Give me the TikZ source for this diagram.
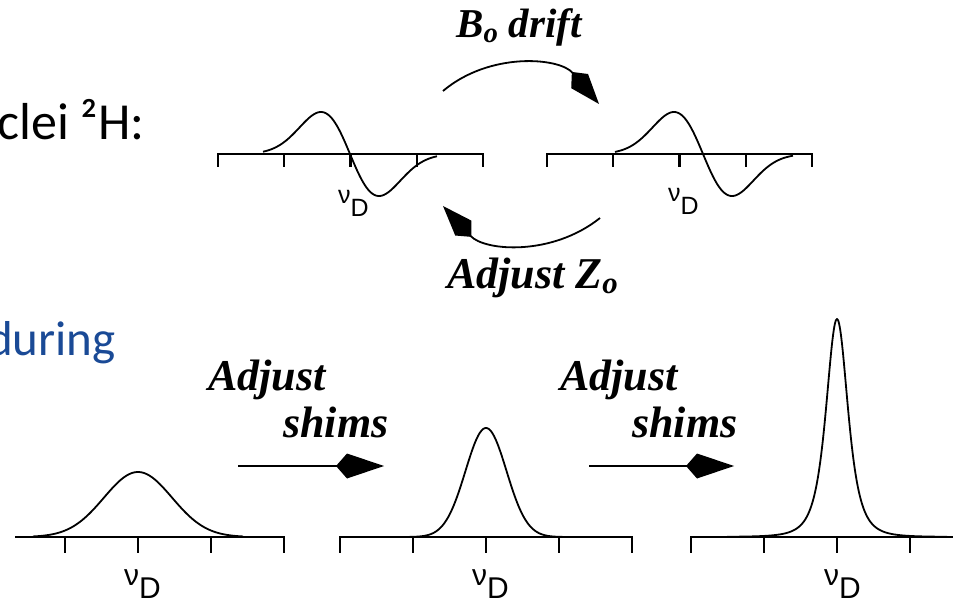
\documentclass[tikz,border=0pt]{standalone}
\usepackage{fontspec}
\setmainfont{Liberation Serif}
\newfontfamily\slidefont{Carlito}
\newfontfamily\labelfont{Liberation Sans}
\usetikzlibrary{arrows.meta, positioning}
\definecolor{slideblue}{HTML}{1A4A96}

\begin{document}
\begin{tikzpicture}[x=1pt, y=-1pt,
    axisline/.style={line width=2.2pt, line cap=rect},
    specline/.style={line width=1.8pt, line join=round},
    shimarrow/.style={line width=2pt, -{Kite[length=48pt, width=25pt, inset=11pt]}},
    driftarrow/.style={line width=1.8pt, -{Kite[length=42pt, width=22pt, inset=12pt]}},
    boldlbl/.style={font=\fontsize{#1}{#1}\selectfont\bfseries\itshape, inner sep=0pt, anchor=base west},
    boldlbl/.default=44,
    nulbl/.style={font=\labelfont\fontsize{#1}{#1}\selectfont, inner sep=0pt, anchor=base west},
    nulbl/.default=30]

\useasboundingbox (0,0) rectangle (953,604);

% slide text, cut at the left edge
\node[anchor=base east, inner sep=0pt, font=\slidefont\fontsize{52}{52}\selectfont] (nuc) at (145,140) {clei ²H:};
\node[anchor=base east, inner sep=0pt, text=slideblue, font=\slidefont\fontsize{49}{49}\selectfont] (dur) at (116,355) {during};

% top: lock signal before and after drift
\foreach \s in {218,547} {
  \draw[axisline] (\s,154) -- ++(265,0);
  \foreach \k in {0,...,4} \draw[axisline] (\s+66.25*\k,154) -- ++(0,12);
}
\draw[specline] plot[domain=-87:87, samples=90, smooth] ({350+\x}, {154-69.3*(-\x/29)*exp(-(\x/29)*(\x/29)/2)});
\draw[specline] plot[domain=-88:90, samples=90, smooth] ({703+\x}, {154-69.3*(-\x/29)*exp(-(\x/29)*(\x/29)/2)});
\node[nulbl=25] (nuL) at (338,204) {ν\raisebox{-0.5em}{D}};
\node[nulbl=25] (nuR) at (668,202) {ν\raisebox{-0.5em}{D}};

\coordinate (dA) at (443,91);
\coordinate (dB) at (599,104);
\coordinate (zA) at (600,218);
\coordinate (zB) at (443,206);
\draw[driftarrow] (dA) to[bend left=45] (dB);
\draw[driftarrow] (zA) to[bend left=43] (zB);
\node[boldlbl=41] (drift) at (456,38) {B\textsubscript{o} drift};
\node[boldlbl] (adjz) at (447,288) {Adjust Z\textsubscript{o}};

% bottom: three lines getting sharper
\foreach \s/\a in {-8/16, 340/340, 691/691} {
  \draw[axisline] (\a,537) -- (\s+292,537);
  \foreach \k in {0,...,4} \draw[axisline] (\s+73*\k,537) -- ++(0,15);
}
\draw[specline] plot[domain=-105:105, samples=100, smooth] ({138+\x}, {537-65*exp(-(\x/34)*(\x/34)/2)});
\draw[specline] plot[domain=-87:87, samples=100, smooth] ({486+\x}, {537-109*exp(-(\x/20.5)*(\x/20.5)/2)});
\draw[specline] plot[domain=-110:110, samples=221, smooth] ({837+\x}, {537-218/((1+(\x/20)*(\x/20))*(1+(\x/20)*(\x/20)))});
\node[nulbl] (nu1) at (124,585) {ν\raisebox{-0.45em}{D}};
\node[nulbl] (nu2) at (472,585) {ν\raisebox{-0.45em}{D}};
\node[nulbl] (nu3) at (824,585) {ν\raisebox{-0.45em}{D}};

\coordinate (s1A) at (238,466);
\coordinate (s1B) at (384,466);
\coordinate (s2A) at (589,466);
\coordinate (s2B) at (734,466);
\draw[shimarrow] (s1A) -- (s1B);
\draw[shimarrow] (s2A) -- (s2B);
\node[boldlbl] (adj1) at (208,390) {Adjust};
\node[boldlbl] (shim1) at (283,437) {shims};
\node[boldlbl] (adj2) at (560,390) {Adjust};
\node[boldlbl] (shim2) at (632,437) {shims};
\end{tikzpicture}
\end{document}
